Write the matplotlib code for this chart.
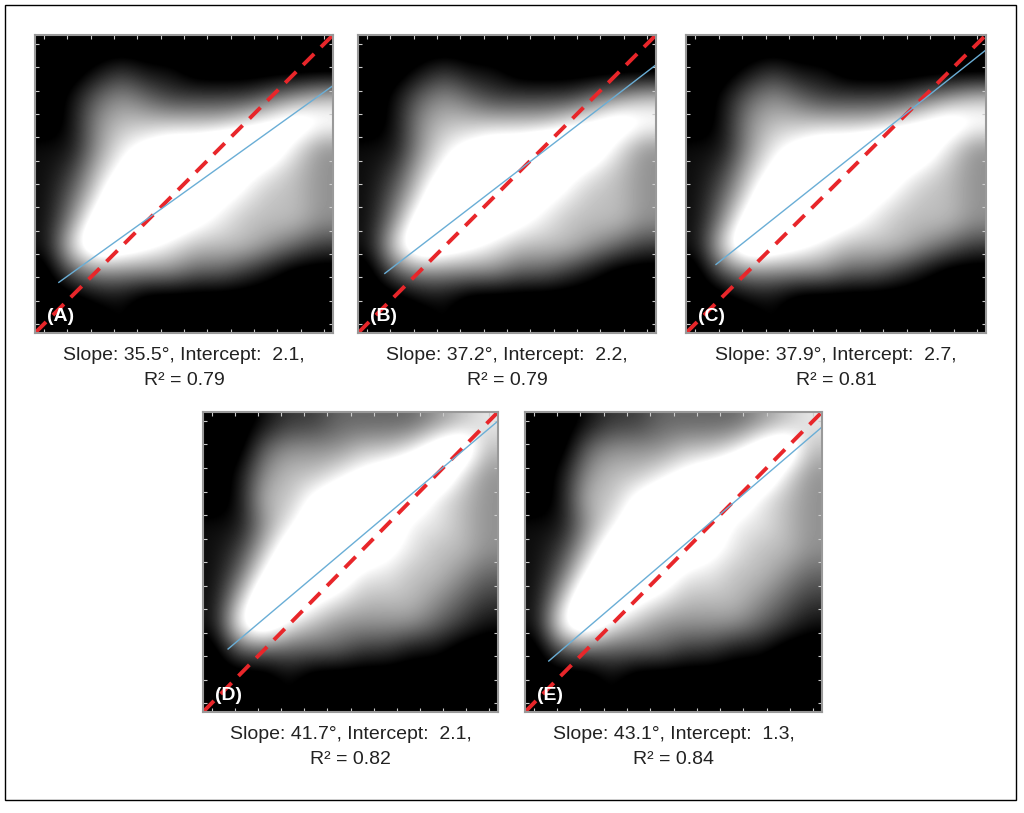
import numpy as np
import matplotlib
matplotlib.use("Agg")
import matplotlib.pyplot as plt
from matplotlib.patches import Rectangle

plt.rcParams['font.family'] = ['Liberation Sans', 'DejaVu Sans']

labels = ["(A)", "(B)", "(C)", "(D)", "(E)"]
slopes_deg = [35.5, 37.2, 37.9, 41.7, 43.1]
intercepts = ["2.1", "2.2", "2.7", "2.1", "1.3"]
r2_values = ["0.79", "0.79", "0.81", "0.82", "0.84"]
# blue fit line end points as drawn (axis fraction)
fit_start_x = [0.08, 0.09, 0.10, 0.085, 0.08]
fit_start_y = [0.17, 0.20, 0.23, 0.21, 0.17]
fit_end_y = [0.83, 0.90, 0.95, 0.97, 0.95]

# coarse point-density (rows top -> bottom, 0..9)
density_top = [
    [0, 0, 0, 0, 0, 0, 0, 0, 0, 0, 0, 0],
    [0, 0, 1, 2, 1, 1, 0, 0, 0, 0, 0, 0],
    [0, 1, 3, 4, 3, 2, 2, 2, 2, 3, 4, 5],
    [0, 1, 4, 5, 5, 5, 5, 5, 6, 7, 8, 7],
    [1, 1, 4, 6, 7, 8, 8, 9, 9, 8, 6, 4],
    [1, 2, 5, 7, 9, 9, 9, 9, 7, 6, 5, 4],
    [1, 3, 6, 9, 9, 9, 8, 7, 6, 5, 5, 4],
    [1, 4, 8, 9, 9, 8, 7, 6, 5, 5, 5, 4],
    [1, 6, 9, 8, 7, 6, 5, 5, 5, 4, 3, 2],
    [0, 3, 4, 4, 4, 4, 3, 3, 2, 1, 0, 0],
    [0, 0, 1, 1, 0, 0, 0, 0, 0, 0, 0, 0],
    [0, 0, 0, 1, 0, 0, 0, 0, 0, 0, 0, 0],
]
density_bottom = [
    [0, 0, 1, 2, 2, 3, 3, 3, 3, 4, 5, 6],
    [0, 0, 3, 4, 4, 4, 5, 5, 6, 8, 9, 5],
    [0, 1, 4, 5, 5, 6, 7, 8, 9, 9, 6, 4],
    [0, 1, 5, 5, 7, 8, 9, 9, 8, 6, 5, 4],
    [1, 1, 4, 6, 8, 9, 9, 8, 6, 6, 5, 4],
    [1, 2, 5, 8, 9, 9, 8, 7, 6, 5, 5, 4],
    [1, 3, 7, 9, 9, 8, 6, 6, 5, 5, 4, 3],
    [1, 5, 9, 9, 7, 6, 5, 5, 5, 4, 3, 2],
    [1, 7, 9, 6, 5, 4, 4, 4, 4, 3, 2, 1],
    [0, 3, 3, 3, 3, 3, 2, 2, 1, 1, 0, 0],
    [0, 0, 0, 1, 0, 0, 0, 0, 0, 0, 0, 0],
    [0, 0, 0, 1, 0, 0, 0, 0, 0, 0, 0, 0],
]
densities = [density_top, density_top, density_top, density_bottom, density_bottom]

# panel boxes in pixels: left, top, width, height
W, H = 1024, 813
boxes = [(35, 35, 298, 298), (358, 35, 298, 298), (686, 35, 300, 298),
         (203, 412, 295, 300), (525, 412, 297, 300)]

fig = plt.figure(figsize=(W / 100, H / 100), dpi=100)
fig.patches.append(Rectangle((5 / W, 1 - 800 / H), 1011 / W, 795 / H, transform=fig.transFigure,
                             fill=False, edgecolor="black", linewidth=1))

for i, (l, t, w, h) in enumerate(boxes):
    ax = fig.add_axes([l / W, 1 - (t + h) / H, w / W, h / H])
    ax.set_facecolor("black")
    ax.imshow(np.array(densities[i], dtype=float) / 9, cmap="gray", vmin=0.08, vmax=0.72,
              extent=(0, 1, 0, 1), interpolation="bicubic", aspect="auto")
    ax.plot([0, 1], [0, 1], color="#e8262a", linestyle=(0, (4, 2.5)), linewidth=2.8)
    ax.plot([fit_start_x[i], 1], [fit_start_y[i], fit_end_y[i]], color="#6aaed6", linewidth=1)
    ax.text(0.04, 0.04, labels[i], color="white", fontsize=14, fontweight="bold",
            transform=ax.transAxes)
    ax.set_xlim(0, 1)
    ax.set_ylim(0, 1)
    ticks = np.linspace(0.03, 0.97, 13)
    ax.set_xticks(ticks)
    ax.set_yticks(ticks)
    ax.tick_params(direction="in", colors="#cccccc", length=3, labelbottom=False, labelleft=False,
                   top=True, right=True)
    for s in ax.spines.values():
        s.set_edgecolor("#999999")
        s.set_linewidth(1.5)
    cx = (l + w / 2) / W
    fig.text(cx, 1 - (t + h + 22) / H, f"Slope: {slopes_deg[i]}°, Intercept:  {intercepts[i]},",
             ha="center", va="center", fontsize=14, color="#222222")
    fig.text(cx, 1 - (t + h + 47) / H, f"R² = {r2_values[i]}", ha="center", va="center",
             fontsize=14, color="#222222")

fig.savefig("out.png", dpi=100)
